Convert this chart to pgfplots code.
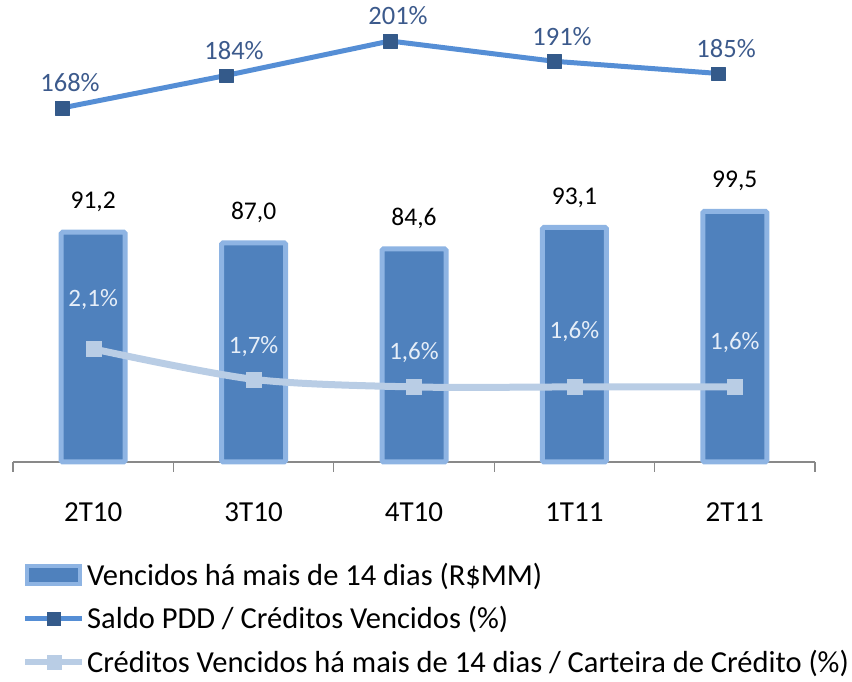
\documentclass[border=0pt]{standalone}
\usepackage{pgfplots}
\pgfplotsset{compat=1.18}
\usepackage{fontspec}
\setmainfont{Carlito}
\definecolor{barfill}{HTML}{4F81BD}
\definecolor{barborder}{HTML}{8EB4E3}
\definecolor{topline}{HTML}{558ED5}
\definecolor{topmark}{HTML}{345A8A}
\definecolor{lightline}{HTML}{B9CDE5}
\definecolor{toplabel}{HTML}{3C5A8C}
\definecolor{inlabel}{HTML}{E6EEF8}
\definecolor{axisgray}{HTML}{898989}
\begin{document}
\begin{tikzpicture}[x=1pt,y=1pt]
\path[use as bounding box] (0,0) rectangle (852,682);

% top line: Saldo PDD / Creditos Vencidos
\begin{axis}[at={(13pt,502pt)}, anchor=south west, scale only axis,
  width=802pt, height=180pt,
  xmin=-0.2988, xmax=4.591, ymin=132.5, ymax=221.2,
  hide axis, clip=false,
  /pgf/number format/assume math mode=true]
\addplot[line width=5pt, color=topline, line join=round,
  mark=square*, mark size=6.8pt,
  mark options={fill=topmark, draw=topmark, line width=0.3pt, solid},
  nodes near coords={\pgfmathprintnumber{\pgfplotspointmeta}\%},
  nodes near coords style={anchor=center, xshift=8pt, yshift=25pt,
    font=\fontsize{26.5}{30}\selectfont, text=toplabel}]
  coordinates {(0,168) (1,184) (2,201) (3,191) (4,185)};
\end{axis}

% bars
\begin{axis}[at={(13pt,220pt)}, anchor=south west, scale only axis,
  width=802pt, height=282.2pt,
  xmin=-0.5, xmax=4.5, ymin=0, ymax=112, clip=false,
  axis y line=none, axis x line*=bottom,
  x axis line style={-, draw=axisgray, line width=1.3pt},
  xtick={0,...,4}, xticklabels={2T10,3T10,4T10,1T11,2T11},
  major x tick style={draw=none}, major tick length=0pt,
  minor xtick={-0.5,0.5,...,4.5},
  minor x tick style={draw=axisgray, line width=1.3pt},
  minor tick length=10pt, tick align=outside,
  xticklabel style={anchor=center, yshift=-50pt, font=\fontsize{29}{33}\selectfont},
  /pgf/number format/assume math mode=true,
  legend style={at={(0.0112,-0.353)}, anchor=north west, draw=none, fill=none,
    inner sep=0pt, row sep=18pt, font=\fontsize{30.5}{34}\selectfont,
    nodes={inner xsep=2pt, inner ysep=1pt}},
  legend cell align=left]
\addplot[ybar, bar width=64pt, fill=barfill, draw=barborder, line width=5pt,
  rounded corners=1.5pt, forget plot,
  nodes near coords={\pgfmathprintnumber[fixed,fixed zerofill,precision=1,use comma]{\pgfplotspointmeta}},
  nodes near coords style={anchor=center, yshift=30pt, text=black,
    font=\fontsize{25.5}{29}\selectfont}]
  coordinates {(0,91.2) (1,87.0) (2,84.6) (3,93.1) (4,99.5)};
\addlegendimage{legend image code/.code={\draw[line width=4pt, draw=barborder, fill=barfill] (2pt,-9pt) rectangle (55pt,9pt);}}
\addlegendentry{Vencidos há mais de 14 dias (R\$MM)}
\addlegendimage{legend image code/.code={\draw[line width=5pt, draw=topline] (0pt,0pt) -- (57pt,0pt); \fill[topmark] (22pt,-6.5pt) rectangle (35pt,6.5pt);}}
\addlegendentry{Saldo PDD / Créditos Vencidos (\%)}
\addlegendimage{legend image code/.code={\draw[line width=6pt, draw=lightline] (0pt,0pt) -- (57pt,0pt); \fill[lightline] (22pt,-7pt) rectangle (36pt,7pt);}}
\addlegendentry{Créditos Vencidos há mais de 14 dias / Carteira de Crédito (\%)}
\end{axis}

% light line: Creditos vencidos / carteira
\begin{axis}[at={(13pt,220pt)}, anchor=south west, scale only axis,
  width=802pt, height=282.2pt,
  xmin=-0.5, xmax=4.5, ymin=0.613, ymax=4.324,
  hide axis, clip=false,
  /pgf/number format/assume math mode=true]
\addplot[smooth, line width=7pt, color=lightline,
  mark=square*, mark size=7.5pt,
  mark options={fill=lightline, draw=lightline, line width=0.3pt, solid},
  visualization depends on={\thisrow{off} \as \myoff},
  nodes near coords={\pgfmathprintnumber[fixed,fixed zerofill,precision=1,use comma]{\pgfplotspointmeta}\%},
  nodes near coords style={anchor=center, yshift=\myoff pt, text=inlabel,
    font=\fontsize{25}{28}\selectfont}]
  table {
x y off
0 2.1 49
1 1.7 33
2 1.6 34
3 1.6 55
4 1.6 44
};
\end{axis}
\end{tikzpicture}
\end{document}
